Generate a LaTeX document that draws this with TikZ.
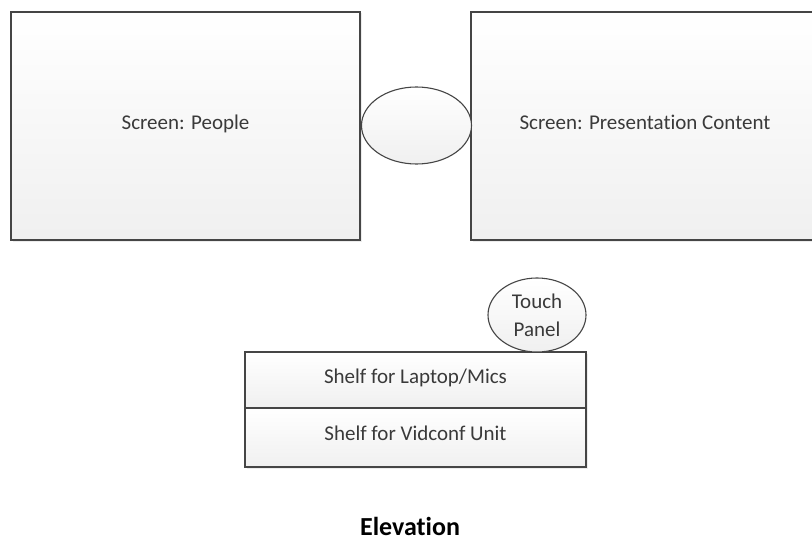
\documentclass[tikz,border=0pt]{standalone}
\usepackage{fontspec}
\setmainfont{Carlito}[Ligatures=NoCommon]
\usetikzlibrary{shapes.geometric,shadows}
\definecolor{edge}{HTML}{454545}
\definecolor{ink}{HTML}{3A3A3A}
\tikzset{
  panelbox/.style={draw=edge, line width=1.2pt, rectangle, top color=white, bottom color=black!6,
    drop shadow={shadow xshift=1.5pt, shadow yshift=-1.5pt, fill=black!12, opacity=0.6},
    text=ink, font=\fontsize{21}{25}\selectfont, text height=0.64em, text depth=0pt, inner sep=0pt},
  roundbox/.style={draw=edge, line width=1.1pt, ellipse, top color=white, bottom color=black!6,
    text=ink, inner sep=0pt},
  caption/.style={font=\fontsize{26}{30}\selectfont\bfseries, text=black, inner sep=0pt}
}
\begin{document}
\begin{tikzpicture}[x=1pt, y=-1pt]
  \useasboundingbox (0,0) rectangle (812,543);
  \clip (0,0) rectangle (812,543);
  \fill[white] (0,0) rectangle (812,543);
  % the two projection screens
  \node[panelbox, minimum width=349pt, minimum height=228pt] (people) at (185.5,126) {Screen: People};
  \node[panelbox, minimum width=348pt, minimum height=228pt] (content) at (645,126) {Screen: Presentation Content};
  % camera between the screens
  \node[roundbox, minimum width=110pt, minimum height=77pt] (camera) at (416.5,125.5) {};
  % credenza with its two shelves
  \node[panelbox, minimum width=341pt, minimum height=56pt] (upper) at (415.5,380) {Shelf for Laptop/Mics};
  \node[panelbox, minimum width=341pt, minimum height=59pt] (lower) at (415.5,437.5) {Shelf for Vidconf Unit};
  % touch panel resting on the top shelf
  \node[roundbox, minimum width=98pt, minimum height=74pt, align=center,
        font=\fontsize{21}{28}\selectfont] (touch) at (537,315) {Touch\\Panel};
  \node[caption, anchor=base] (title) at (410,535) {Elevation};
\end{tikzpicture}
\end{document}
